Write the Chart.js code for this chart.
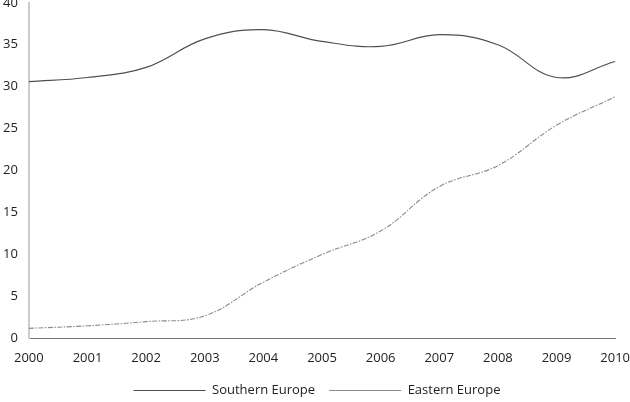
<!DOCTYPE html>
<html>
<head>
<meta charset="utf-8">
<script src="https://cdn.jsdelivr.net/npm/chart.js@4/dist/chart.umd.min.js"></script>
<style>
  html,body{margin:0;padding:0;background:#fff;overflow:hidden;}
  #wrap{width:634px;height:415px;margin-top:-8px;}
</style>
</head>
<body>
<div id="wrap"><canvas id="chart"></canvas></div>
<script>
// === data ===
const years = ["2000","2001","2002","2003","2004","2005","2006","2007","2008","2009","2010"];
const southernEurope = [30.6, 31.1, 32.3, 35.7, 36.8, 35.4, 34.8, 36.2, 35.0, 31.1, 33.0];
const easternEurope = [1.2, 1.5, 2.0, 2.7, 6.7, 10.0, 12.8, 18.1, 20.6, 25.4, 28.8];
const yTicks = [0, 5, 10, 15, 20, 25, 30, 35, 40];

const tickFont = {family: "'Open Sans', sans-serif", size: 13};

new Chart(document.getElementById("chart"), {
  type: "line",
  data: {
    labels: years,
    datasets: [
      {label: "Southern Europe", data: southernEurope, borderColor: "#505050", borderWidth: 1.2,
        pointRadius: 0, tension: 0.4, fill: false},
      {label: "Eastern Europe", data: easternEurope, borderColor: "#8a8a8a", borderWidth: 1.1,
        borderDash: [5, 1.5, 1.5, 1.5], pointRadius: 0, tension: 0.4, fill: false}
    ]
  },
  options: {
    responsive: true,
    maintainAspectRatio: false,
    animation: false,
    layout: {padding: {top: 0, right: 0, left: 0, bottom: 0}},
    plugins: {
      tooltip: {enabled: false},
      legend: {
        position: "bottom",
        labels: {
          usePointStyle: true,
          pointStyle: "line",
          pointStyleWidth: 72,
          boxHeight: 1,
          padding: 14,
          color: "#222",
          font: {family: "'Open Sans', sans-serif", size: 13}
        }
      }
    },
    scales: {
      x: {
        grid: {display: false},
        border: {display: true, color: "#777", width: 1},
        ticks: {color: "#222", font: tickFont, maxRotation: 0, padding: 4}
      },
      y: {
        min: 0, max: 40,
        grid: {display: false},
        border: {display: true, color: "#ccc", width: 2},
        afterBuildTicks: axis => { axis.ticks = yTicks.map(v => ({value: v})); },
        ticks: {color: "#222", font: tickFont, padding: 3}
      }
    }
  }
});
</script>
</body>
</html>
